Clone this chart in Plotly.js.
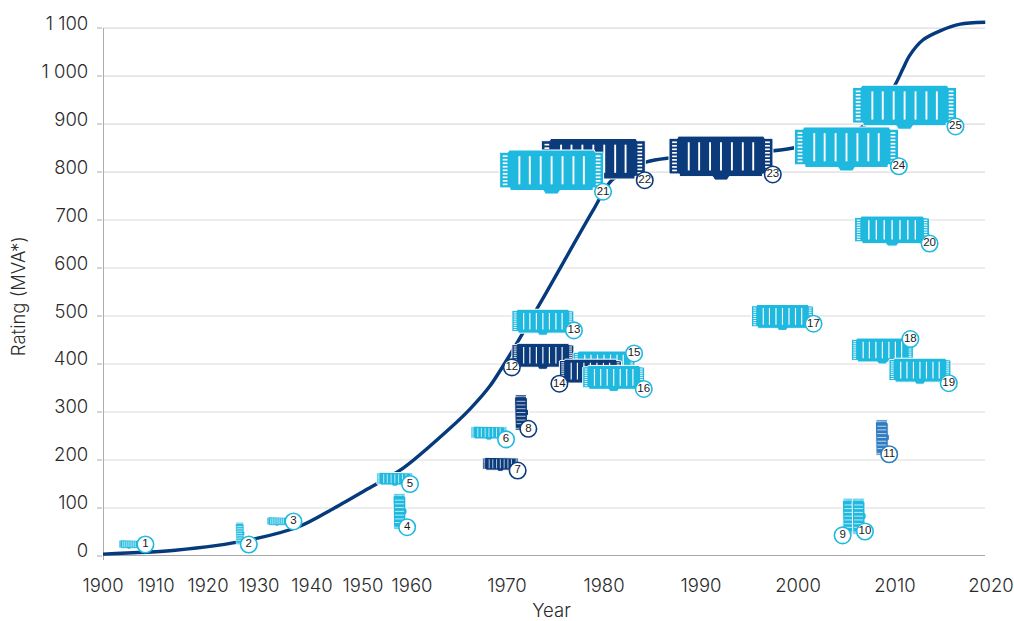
<!DOCTYPE html>
<html><head><meta charset="utf-8">
<script src="https://cdn.plot.ly/plotly-3.0.1.min.js"></script>
<style>html,body{margin:0;padding:0;background:#fff;overflow:hidden}</style></head>
<body><div id="chart" style="width:1014px;height:621px"></div>
<script>
// Tick labels
const decadeYears = [1900,1910,1920,1930,1940,1950,1960,1970,1980,1990,2000,2010,2020];
const decadeLabels = decadeYears.map(String);
const ratingTicks = [0,100,200,300,400,500,600,700,800,900,1000,1100];
const ratingLabels = ['0','100','200','300','400','500','600','700','800','900','1 000','1 100'];

// The growth curve
const curveYears = [1900,1913.7,1927.9,1937.7,1944.4,1951,1958.2,1964,1966.1,1968.2,1970.3,1973.6,1978.9,1980.8,1984.4,1986.6,1992,1999.5,2006.4,2008.2,2010.1,2010.8,2011.5,2012.9,2014.7,2016.8,2019.4];
const curveRatings = [4,12,33,62,100,140,183,266,306,354,419,533,721,783,821,829,835,850,891,924,985,1014,1042,1075,1094,1108,1112];

// The numbered transformers, in drawing order
const unitIds     = [1,2,3,4,5,6,7,8,9,10,11,12,13,15,14,16,17,18,19,20,22,21,23,24,25];
const unitYears   = [1904.9,1926.3,1933.4,1957.55,1956.5,1968.1,1969.3,1971.5,2005.3,2006.3,2008.7,1973.7,1973.7,1980,1978.6,1981,1998.4,2008.7,2012.6,2009.7,1978.9,1974.6,1992.06,2005,2011];
const unitRatings = [24,47,72,93,160,256,191,299,83,83,247,416,487,400,383,370,497,427,385,677,824,800,829,848,935];
const unitClass   = ['tiny','tinyV','tiny','smallV','small','small','small','smallV','smallV','smallV','smallV','mid','mid','mid','mid','mid','mid','mid','mid','midPlus','large','large','large','large','large'];
const unitTone    = ['light','light','light','light','light','light','dark','dark','light','light','blue','dark','light','light','dark','light','light','light','light','light','dark','light','dark','light','light'];
const badgeYears   = [1908,1928,1936.5,1959,1959.6,1969.9,1971.1,1972.2,2004.6,2006.9,2009.4,1970.5,1976.9,1983.1,1975.4,1984.1,2001.6,2011.6,2015.6,2013.6,1984.2,1979.9,1997.4,2010.4,2016.3];
const badgeRatings = [24,24,72,60,150,243,178,265,43,51,212,393,470,422,359,348,484,452,360,651,783,759,795,812,895];

const classSize = {tiny:[20,9], tinyV:[9,22], small:[36,14], smallV:[14,36], mid:[62,26], midPlus:[75,30], large:[104,44]};
const toneColor = {light:'#1fb9e0', dark:'#0c3b7c', blue:'#2f7cc0'};

// Axis scale: the decades are not evenly spaced on this chart
const scaleAt = [103,156,208,259,312,363,412,507,604,701,798,895,991];
function yearPos(y){
  for(let i=0;i<decadeYears.length-1;i++){
    if(y<=decadeYears[i+1]){
      const t=(y-decadeYears[i])/(decadeYears[i+1]-decadeYears[i]);
      return scaleAt[i]+t*(scaleAt[i+1]-scaleAt[i]);
    }
  }
  return scaleAt[scaleAt.length-1];
}
const L=103, R=1000, T=15, B=555.7, W=1014, H=621, perUnit=0.4797;
const yMax=(B-T)/perUnit;
const rat=px=>px/perUnit;

const outlineUnit=[[.09,0],[.91,0],[.92,.05],[.99,.05],[1,.07],[1,.84],[.99,.86],[.9,.86],[.9,.92],[.58,.92],[.56,1],[.44,1],[.42,.92],[.1,.92],[.1,.86],[.01,.86],[0,.84],[0,.07],[.01,.05],[.08,.05],[.09,0]];
function place(u,v,w,h,vertical){
  if(!vertical) return [(u-.5)*w,(v-.5)*h];
  return [(v-.5)*w,(u-.5)*h];
}
function iconTraces(i){
  const [w,h]=classSize[unitClass[i]];
  const vertical=h>w;
  const cx=yearPos(unitYears[i]), cy=unitRatings[i];
  const long=Math.max(w,h);
  const color=toneColor[unitTone[i]];
  const bx=[],by=[];
  outlineUnit.forEach(([u,v])=>{const [dx,dy]=place(u,v,w,h,vertical);bx.push(cx+dx);by.push(cy-rat(dy));});
  const body={x:bx,y:by,mode:'lines',fill:'toself',fillcolor:color,line:{color:'#ffffff',width:long>30?1:0.5},hoverinfo:'skip',showlegend:false};
  const sx=[],sy=[],cxs=[],cys=[];
  const seg=(arrX,arrY,u0,v0,u1,v1)=>{
    const a=place(u0,v0,w,h,vertical),b=place(u1,v1,w,h,vertical);
    arrX.push(cx+a[0],cx+b[0],null);arrY.push(cy-rat(a[1]),cy-rat(b[1]),null);
  };
  [.19,.29,.395,.5,.605,.71,.81].forEach(u=>seg(sx,sy,u,.14,u,.78));
  for(let k=0;k<9;k++){
    const v=.14+k*.08;
    seg(cxs,cys,.03,v,.076,v);
    seg(cxs,cys,.924,v,.97,v);
  }
  const scale=long/104;
  const slots={x:sx,y:sy,mode:'lines',line:{color:'#ffffff',width:Math.max(.7,1.9*scale)},hoverinfo:'skip',showlegend:false,connectgaps:false};
  const comb={x:cxs,y:cys,mode:'lines',line:{color:'#ffffff',width:Math.max(.4,1.7*scale)},hoverinfo:'skip',showlegend:false,connectgaps:false};
  return [body,slots,comb];
}

const traces=[{x:curveYears.map(yearPos),y:curveRatings,mode:'lines',line:{color:'#053a7d',width:3.4,shape:'spline',smoothing:.8},hoverinfo:'skip',showlegend:false}];
unitIds.forEach((id,i)=>traces.push(...iconTraces(i)));
traces.push({
  x:badgeYears.map(yearPos),y:badgeRatings,mode:'markers+text',
  text:unitIds.map(String),textposition:'middle center',
  textfont:{family:'"Liberation Sans",Arial,sans-serif',size:11.5,color:'#1a1a1a'},
  marker:{size:16.5,color:'#ffffff',line:{width:1.6,color:unitTone.map(t=>toneColor[t])}},
  hoverinfo:'skip',showlegend:false,cliponaxis:false});

const grid=ratingTicks.filter(r=>r>0).map(r=>({type:'line',layer:'below',xref:'x',yref:'y',x0:L,x1:985,y0:r,y1:r,line:{color:'#dcdcdc',width:1.2}}));
const axisLines=[
 {type:'line',layer:'below',xref:'x',yref:'y',x0:L,x1:985,y0:0,y1:0,line:{color:'#8a8a8a',width:1.4}},
 {type:'line',layer:'below',xref:'x',yref:'y',x0:L,x1:L,y0:0,y1:1100,line:{color:'#8a8a8a',width:1.4}},
 {type:'line',layer:'below',xref:'x',yref:'paper',x0:L,x1:L,y0:0,y1:-4/(B-T),line:{color:'#8a8a8a',width:1.4}}
];
const font={family:'Inter,"Liberation Sans",sans-serif',size:18.5,color:'#2b2b2b',weight:300};
Plotly.newPlot('chart',traces,{
  width:W,height:H,paper_bgcolor:'#fff',plot_bgcolor:'#fff',showlegend:false,
  margin:{l:L,r:W-R,t:T,b:H-B,pad:0},font,
  xaxis:{range:[L,R],tickmode:'array',tickvals:decadeYears.map(yearPos),ticktext:decadeLabels,showgrid:false,zeroline:false,showline:false,ticks:'',ticklabelstandoff:16,tickangle:0,
         title:{text:'Year',font,standoff:27},automargin:false,fixedrange:true},
  yaxis:{range:[0,yMax],tickmode:'array',tickvals:ratingTicks,ticktext:ratingLabels,showgrid:false,zeroline:false,showline:false,ticks:'outside',ticklen:5,tickcolor:'#d4d4d4',tickwidth:1.2,ticklabelshift:-5,ticklabelstandoff:5,automargin:false,fixedrange:true},
  annotations:[{text:'Rating (MVA*)',font,xref:'paper',yref:'paper',x:(18-L)/(R-L),y:(B-296)/(B-T),textangle:-90,showarrow:false,xanchor:'center',yanchor:'middle'}],
  shapes:[...grid,...axisLines]
},{displayModeBar:false,staticPlot:true});
</script></body></html>
